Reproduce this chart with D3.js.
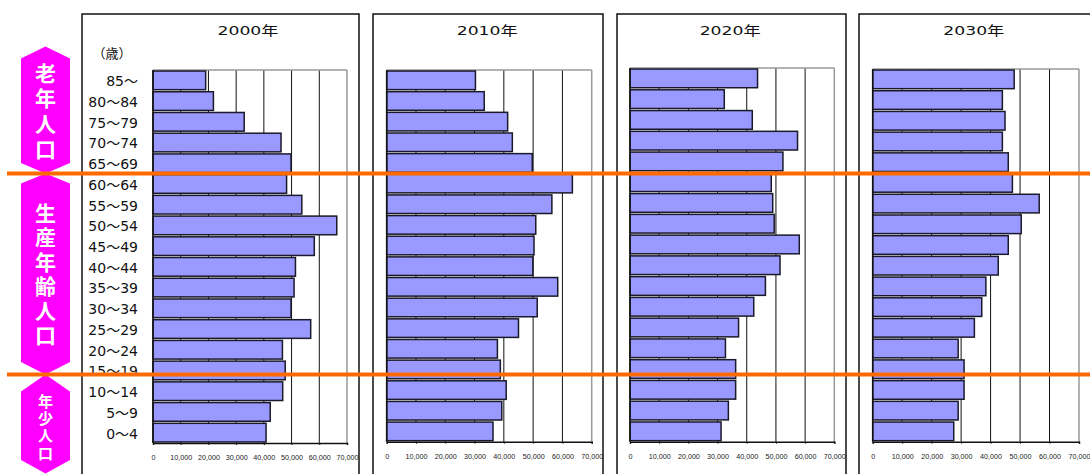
<!DOCTYPE html>
<html>
<head>
<meta charset="utf-8">
<script src="https://cdn.jsdelivr.net/npm/d3@7"></script>
<style>
  body { margin: 0; background: #fff; }
  svg { display: block; }
</style>
</head>
<body>
<svg id="chart" width="1090" height="474"></svg>
<script>
// age groups, top to bottom
const ages = ["85～", "80～84", "75～79", "70～74", "65～69", "60～64", "55～59", "50～54", "45～49",
              "40～44", "35～39", "30～34", "25～29", "20～24", "15～19", "10～14", "5～9", "0～4"];

const years = ["2000年", "2010年", "2020年", "2030年"];

// population by age group (same order as ages)
const pop2000 = [19000, 21800, 32900, 46200, 49800, 48200, 53700, 66300, 58200, 51400, 50900, 49800, 56900, 46700, 47700, 46800, 42300, 40800];
const pop2010 = [30300, 33300, 41300, 42900, 49700, 63400, 56400, 50900, 50300, 49900, 58400, 51400, 45000, 37800, 38800, 40800, 39300, 36300];
const pop2020 = [43700, 32300, 41900, 57400, 52400, 48400, 48900, 49400, 58000, 51400, 46400, 42400, 37200, 32700, 36200, 36200, 33700, 31200];
const pop2030 = [48000, 44000, 44900, 44000, 46000, 47400, 56500, 50400, 46000, 42600, 38400, 37000, 34500, 29000, 31000, 31000, 29000, 27500];

const xTicks = [0, 10000, 20000, 30000, 40000, 50000, 60000, 70000];

// side tags
const groups = ["老年人口", "生産年齢人口", "年少人口"];

const series = [pop2000, pop2010, pop2020, pop2030];

// panel frames (box edges, plot edges)
const layout = [
  { box: [82, 359], plot: [153, 347], top: 70, bottom: 443 },
  { box: [373, 603], plot: [386.7, 591.7], top: 70, bottom: 441.7 },
  { box: [617, 846], plot: [630, 834.3], top: 68, bottom: 441.7 },
  { box: [859, 1110], plot: [872.7, 1079], top: 69, bottom: 441.7 }
];

const svg = d3.select("#chart");
const fmt = d3.format(",");

years.forEach(function (yr, i) {
    const L = layout[i];
    const vals = series[i];
    const g = svg.append("g");

    // outer box
    g.append("rect")
        .attr("x", L.box[0]).attr("y", 14)
        .attr("width", L.box[1] - L.box[0]).attr("height", 480)
        .attr("fill", "none").attr("stroke", "#111").attr("stroke-width", 1.5);

    const x = d3.scaleLinear().domain([0, 70000]).range(L.plot);
    const y = d3.scaleBand().domain(ages).range([L.top, L.bottom])
        .paddingInner(0.1).paddingOuter(0.05);

    // title (wide digits)
    g.append("text")
        .attr("x", (L.plot[0] + L.plot[1]) / 2 - 2)
        .attr("y", 35)
        .attr("text-anchor", "middle")
        .attr("textLength", 61)
        .attr("lengthAdjust", "spacingAndGlyphs")
        .style("font-family", "'DejaVu Sans', 'Noto Sans CJK JP', sans-serif")
        .style("font-size", "13px")
        .attr("fill", "#111")
        .text(yr);

    // grid lines
    g.selectAll(".grid").data(xTicks.slice(1)).enter().append("line")
        .attr("x1", d => x(d)).attr("x2", d => x(d))
        .attr("y1", L.top).attr("y2", L.bottom)
        .attr("stroke", d => d === 70000 ? "#999" : "#111")
        .attr("stroke-width", d => d === 70000 ? 1.5 : 1);
    g.append("line")
        .attr("x1", x(0)).attr("x2", x(70000))
        .attr("y1", L.top).attr("y2", L.top)
        .attr("stroke", "#999").attr("stroke-width", 1.5);

    // bars
    g.selectAll(".bar").data(vals).enter().append("rect")
        .attr("class", "bar")
        .attr("x", x(0))
        .attr("y", (d, j) => y(ages[j]))
        .attr("width", d => x(d) - x(0))
        .attr("height", y.bandwidth())
        .attr("fill", "#9999ff")
        .attr("stroke", "#1a1a2a")
        .attr("stroke-width", 1.5);

    // axes
    const ax = g.append("g")
        .attr("transform", "translate(0," + L.bottom + ")")
        .call(d3.axisBottom(x).tickValues(xTicks).tickFormat(d => fmt(d))
            .tickSize(2).tickPadding(10));
    ax.select(".domain").attr("stroke", "#111").attr("stroke-width", 1.5);
    ax.selectAll(".tick line").attr("stroke", "#111");
    ax.selectAll("text")
        .style("font-family", "'Liberation Sans', sans-serif")
        .style("font-size", "7.2px")
        .attr("fill", "#222");
    g.append("line")
        .attr("x1", x(0)).attr("x2", x(0))
        .attr("y1", L.top).attr("y2", L.bottom)
        .attr("stroke", "#111").attr("stroke-width", 1.5);

    // age labels only on first panel
    if (i === 0) {
        g.selectAll(".age").data(ages).enter().append("text")
            .attr("x", 138)
            .attr("y", d => y(d) + y.bandwidth() / 2)
            .attr("dy", "0.42em")
            .attr("text-anchor", "end")
            .style("font-family", "'DejaVu Sans', 'Noto Sans CJK JP', sans-serif")
            .style("font-size", "14px")
            .attr("fill", "#111")
            .text(d => d);
        g.append("text")
            .attr("x", 112).attr("y", 58)
            .attr("text-anchor", "middle")
            .style("font-family", "'Noto Sans CJK JP', sans-serif")
            .style("font-size", "13px")
            .attr("fill", "#111")
            .text("（歳）");
    }
});

// magenta hexagon tags, text set vertically
const hexes = [
  { top: 46.5, s1: 58.5, s2: 163, bot: 173.5, start: 73, step: 25.5, size: 21 },
  { top: 173.5, s1: 183.5, s2: 362, bot: 374.5, start: 213, step: 24.4, size: 21 },
  { top: 374.5, s1: 391.5, s2: 460, bot: 473.5, start: 401, step: 17.4, size: 15 }
];
const cx = 45.5, hl = 21, hr = 70;
hexes.forEach(function (h, k) {
    svg.append("polygon")
        .attr("points", [[cx, h.top], [hr, h.s1], [hr, h.s2], [cx, h.bot], [hl, h.s2], [hl, h.s1]].join(" "))
        .attr("fill", "#ff00ff");
    svg.append("text")
        .attr("x", cx)
        .attr("y", h.start - h.size / 2)
        .style("writing-mode", "vertical-rl")
        .style("text-orientation", "upright")
        .style("letter-spacing", (h.step - h.size) + "px")
        .style("font-family", "'Noto Sans CJK JP', sans-serif")
        .style("font-weight", "bold")
        .style("font-size", h.size + "px")
        .attr("fill", "#fff")
        .text(groups[k]);
});

// orange divider lines
[173.5, 374.5].forEach(function (yy) {
    svg.append("line")
        .attr("x1", 7).attr("x2", 1090)
        .attr("y1", yy).attr("y2", yy)
        .attr("stroke", "#ff6a00").attr("stroke-width", 4);
});
</script>
</body>
</html>
